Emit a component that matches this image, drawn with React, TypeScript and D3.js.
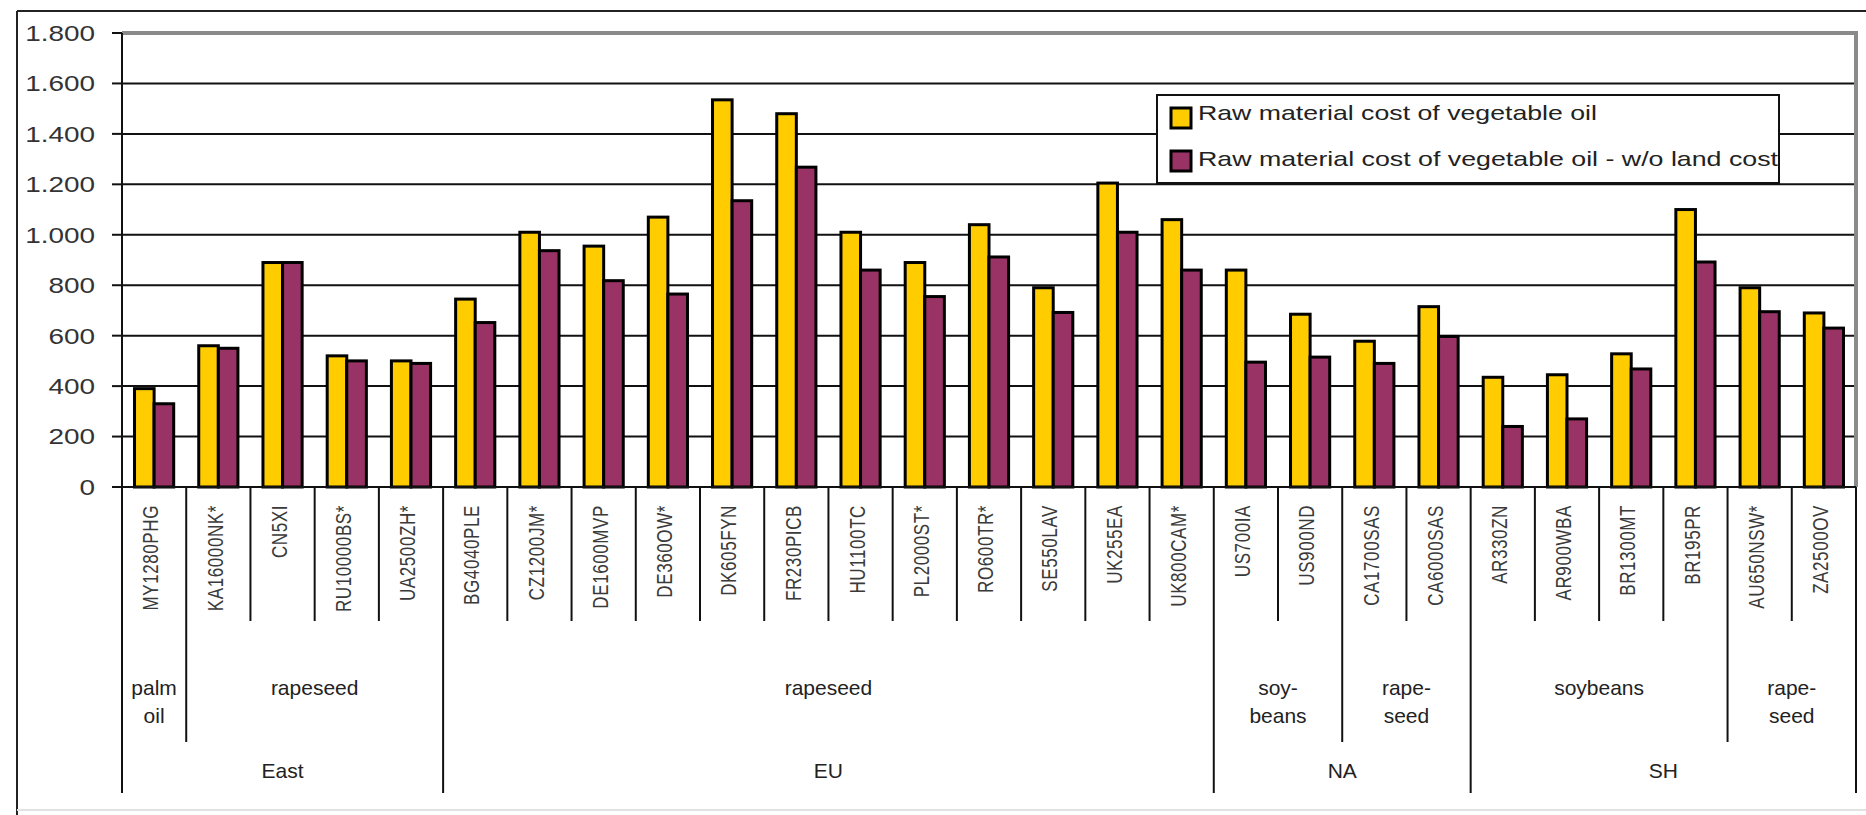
import React from "react";
import * as d3 from "d3";

const categories = [
  "MY1280PHG", "KA16000NK*", "CN5XI", "RU10000BS*", "UA2500ZH*",
  "BG4040PLE", "CZ1200JM*", "DE1600MVP", "DE360OW*", "DK605FYN",
  "FR230PICB", "HU1100TC", "PL2000ST*", "RO600TR*", "SE550LAV",
  "UK255EA", "UK800CAM*", "US700IA", "US900ND", "CA1700SAS",
  "CA6000SAS", "AR330ZN", "AR900WBA", "BR1300MT", "BR195PR",
  "AU650NSW*", "ZA2500OV",
];

const rawCost = [
  390, 560, 890, 520, 500, 745, 1010, 955, 1070, 1535, 1480, 1010, 890, 1040,
  790, 1205, 1060, 860, 685, 578, 715, 435, 445, 528, 1100, 790, 690,
];

const rawCostNoLand = [
  330, 550, 890, 500, 490, 652, 937, 818, 765, 1135, 1268, 860, 755, 912, 692,
  1010, 860, 495, 515, 490, 597, 240, 270, 468, 892, 695, 630,
];

const seriesNames = [
  "Raw material cost of vegetable oil",
  "Raw material cost of vegetable oil - w/o land cost",
];
const seriesColors = ["#FFCC00", "#993366"];

const yTicks = [0, 200, 400, 600, 800, 1000, 1200, 1400, 1600, 1800];
const yTickLabels = ["0", "200", "400", "600", "800", "1.000", "1.200", "1.400", "1.600", "1.800"];

// crop groups: [label lines, start index, end index (exclusive)]
const cropGroups: [string[], number, number][] = [
  [["palm", "oil"], 0, 1],
  [["rapeseed"], 1, 5],
  [["rapeseed"], 5, 17],
  [["soy-", "beans"], 17, 19],
  [["rape-", "seed"], 19, 21],
  [["soybeans"], 21, 25],
  [["rape-", "seed"], 25, 27],
];

const regionGroups: [string, number, number][] = [
  ["East", 0, 5],
  ["EU", 5, 17],
  ["NA", 17, 21],
  ["SH", 21, 27],
];

const FONT = "'Liberation Sans', Arial, Helvetica, sans-serif";

export default function App() {
  const W = 1866;
  const H = 815;
  const left = 122;
  const right = 1856;
  const top = 33;
  const zeroY = 487;

  const x = d3.scaleBand<number>().domain(d3.range(categories.length)).range([left, right]).padding(0);
  const bw = x.bandwidth();
  const inner = d3.scaleBand<number>().domain([0, 1]).range([bw * 0.195, bw * 0.805]).padding(0);
  const y = d3.scaleLinear().domain([0, 1800]).range([zeroY, top]);

  const series = [rawCost, rawCostNoLand];

  const boundaryX = (i: number) => (i >= categories.length ? right : (x(i) as number));

  const level1End = 621;
  const level2End = 742;
  const level3End = 793;

  const cropBoundaries = new Set<number>();
  cropGroups.forEach((g) => { cropBoundaries.add(g[1]); cropBoundaries.add(g[2]); });
  const regionBoundaries = new Set<number>();
  regionGroups.forEach((g) => { regionBoundaries.add(g[1]); regionBoundaries.add(g[2]); });

  const boundaries = d3.range(categories.length + 1).map((i) => ({
    i,
    end: regionBoundaries.has(i) ? level3End : cropBoundaries.has(i) ? level2End : level1End,
  }));

  const legend = { x: 1157, y: 95, w: 622, h: 88 };

  return (
    <svg width={W} height={H} style={{ position: "absolute", left: 0, top: 0, background: "#fff" }} fontFamily={FONT}>
      <rect x={0} y={0} width={W} height={H} fill="#fff" />
      {/* outer chart border */}
      <line x1={17} y1={11} x2={W} y2={11} stroke="#222" strokeWidth={2} />
      <line x1={17} y1={11} x2={17} y2={H} stroke="#222" strokeWidth={2} />
      <line x1={17} y1={810} x2={W} y2={810} stroke="#e2e2e2" strokeWidth={2} />

      {/* gridlines */}
      {yTicks.filter((t) => t > 0 && t < 1800).map((t) => (
        <line key={t} x1={left} x2={right} y1={y(t)} y2={y(t)} stroke="#111" strokeWidth={2} />
      ))}
      {/* plot border top & right */}
      <line x1={left} x2={right} y1={y(1800)} y2={y(1800)} stroke="#8a8a8a" strokeWidth={4} />
      <line x1={right} x2={right} y1={y(1800) - 2} y2={zeroY} stroke="#8a8a8a" strokeWidth={4} />

      {/* y ticks & labels */}
      {yTicks.map((t, k) => (
        <g key={t}>
          <line x1={left - 10} x2={left} y1={y(t)} y2={y(t)} stroke="#111" strokeWidth={2} />
          <text transform={`translate(95,${y(t)}) scale(1.27,1)`} dy="0.36em" textAnchor="end" fontSize={22} fill="#333">
            {yTickLabels[k]}
          </text>
        </g>
      ))}

      {/* legend */}
      <rect x={legend.x} y={legend.y} width={legend.w} height={legend.h} fill="#fff" stroke="#111" strokeWidth={2} />
      {seriesNames.map((name, s) => (
        <g key={name}>
          <rect x={1171} y={108 + s * 43} width={20} height={20} fill={seriesColors[s]} stroke="#000" strokeWidth={3} />
          <text x={1198} y={120 + s * 46} fontSize={21} fill="#222"
            textLength={s === 0 ? 399 : 580} lengthAdjust="spacingAndGlyphs">
            {name}
          </text>
        </g>
      ))}

      {/* bars */}
      {categories.map((c, i) => (
        <g key={c} transform={`translate(${x(i)},0)`}>
          {series.map((vals, s) => (
            <rect key={s} x={inner(s)} y={y(vals[i])} width={inner.bandwidth()} height={zeroY - y(vals[i])}
              fill={seriesColors[s]} stroke="#000" strokeWidth={3} />
          ))}
        </g>
      ))}

      {/* axes */}
      <line x1={left} x2={left} y1={top} y2={zeroY} stroke="#111" strokeWidth={2} />
      <line x1={left - 10} x2={right} y1={zeroY} y2={zeroY} stroke="#111" strokeWidth={2} />

      {/* category separators */}
      {boundaries.map((b) => (
        <line key={b.i} x1={boundaryX(b.i)} x2={boundaryX(b.i)} y1={zeroY} y2={b.end} stroke="#111" strokeWidth={2} />
      ))}

      {/* category labels */}
      {categories.map((c, i) => {
        const cx = (x(i) as number) + bw / 2 - 4;
        return (
          <text key={c} transform={`translate(${cx},505) scale(1.35,1) rotate(-90)`} dy="0.36em" textAnchor="end"
            fontSize={17} letterSpacing={0.6} fill="#3a3a3a">
            {c}
          </text>
        );
      })}

      {/* crop labels */}
      {cropGroups.map((g, k) => {
        const cx = (boundaryX(g[1]) + boundaryX(g[2])) / 2;
        return (
          <text key={k} x={cx} y={687} textAnchor="middle" fontSize={21} fill="#222">
            {g[0].map((line, j) => (
              <tspan key={j} x={cx} y={687 + j * 28} dy="0.36em">{line}</tspan>
            ))}
          </text>
        );
      })}

      {/* region labels */}
      {regionGroups.map((g) => {
        const cx = (boundaryX(g[1]) + boundaryX(g[2])) / 2;
        return (
          <text key={g[0]} x={cx} y={770} dy="0.36em" textAnchor="middle" fontSize={21} fill="#222">
            {g[0]}
          </text>
        );
      })}
    </svg>
  );
}
